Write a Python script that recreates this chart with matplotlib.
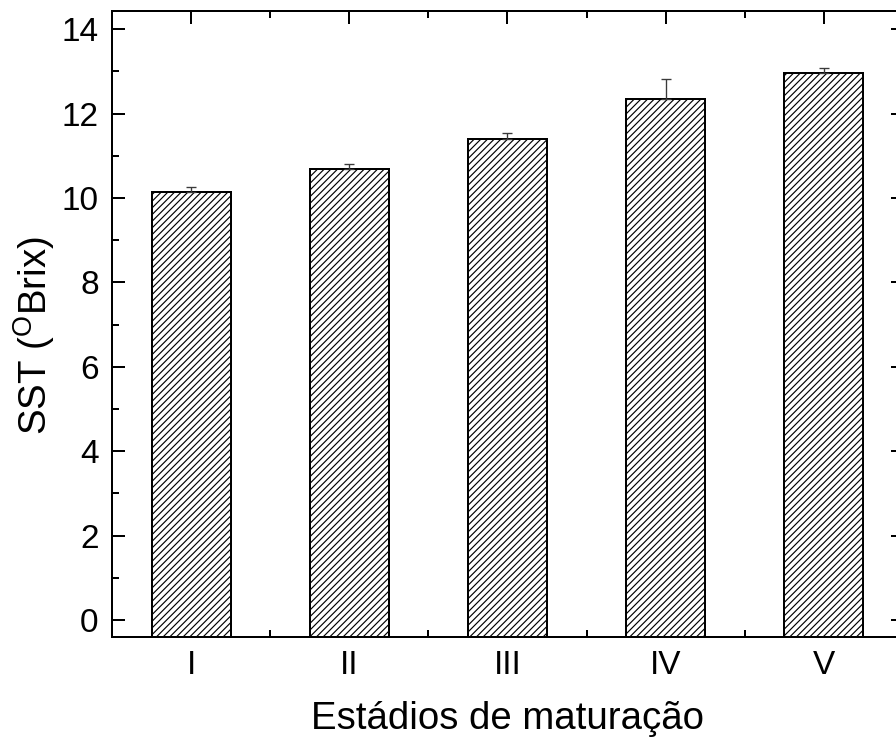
import numpy as np
import matplotlib
matplotlib.use("Agg")
import matplotlib.pyplot as plt
from matplotlib.ticker import MultipleLocator, FixedLocator

plt.rcParams["font.family"] = "sans-serif"
plt.rcParams["font.sans-serif"] = ["Liberation Sans", "DejaVu Sans"]
plt.rcParams["mathtext.fontset"] = "custom"
plt.rcParams["mathtext.rm"] = "Liberation Sans"
plt.rcParams["hatch.linewidth"] = 0.7
plt.rcParams["hatch.color"] = "black"

# data
stages = ["I", "II", "III", "IV", "V"]
sst = [10.15, 10.69, 11.39, 12.35, 12.95]
sst_err = [0.10, 0.11, 0.14, 0.47, 0.12]

dpi = 120
fig = plt.figure(figsize=(896 / dpi, 744 / dpi), dpi=dpi)
ax = fig.add_axes([0.125, 0.1438, 0.8828, 0.8414])

ymin, ymax = -0.4, 14.43
x = np.arange(1, len(stages) + 1)
heights = np.array(sst) - ymin
ax.bar(x, heights, width=0.5, bottom=ymin, color="white", edgecolor="black",
       linewidth=1.2, hatch="//////", zorder=2)
ax.errorbar(x, sst, yerr=[np.zeros(len(sst)), sst_err], fmt="none",
            ecolor="#3a3a3a", elinewidth=0.8, capsize=3.2, capthick=0.8, zorder=3)

ax.set_xlim(0.5, 5.5)
ax.set_ylim(ymin, ymax)
ax.set_xticks(x)
ax.set_xticklabels(stages)
ax.xaxis.set_minor_locator(FixedLocator(x[:-1] + 0.5))
ax.yaxis.set_major_locator(MultipleLocator(2))
ax.yaxis.set_minor_locator(MultipleLocator(1))

for s in ax.spines.values():
    s.set_linewidth(1.2)
ax.tick_params(which="both", direction="in", top=True, right=True, width=1.2)
ax.tick_params(which="major", length=7.5, labelsize=20, pad=8)
ax.tick_params(which="minor", length=4)

ax.set_xlabel("Estádios de maturação", fontsize=23, labelpad=12)
ax.set_ylabel(r"SST ($^{\mathrm{O}}$Brix)", fontsize=23)
ax.yaxis.set_label_coords(-0.069, 0.481)

fig.savefig("out.png", dpi=dpi)
